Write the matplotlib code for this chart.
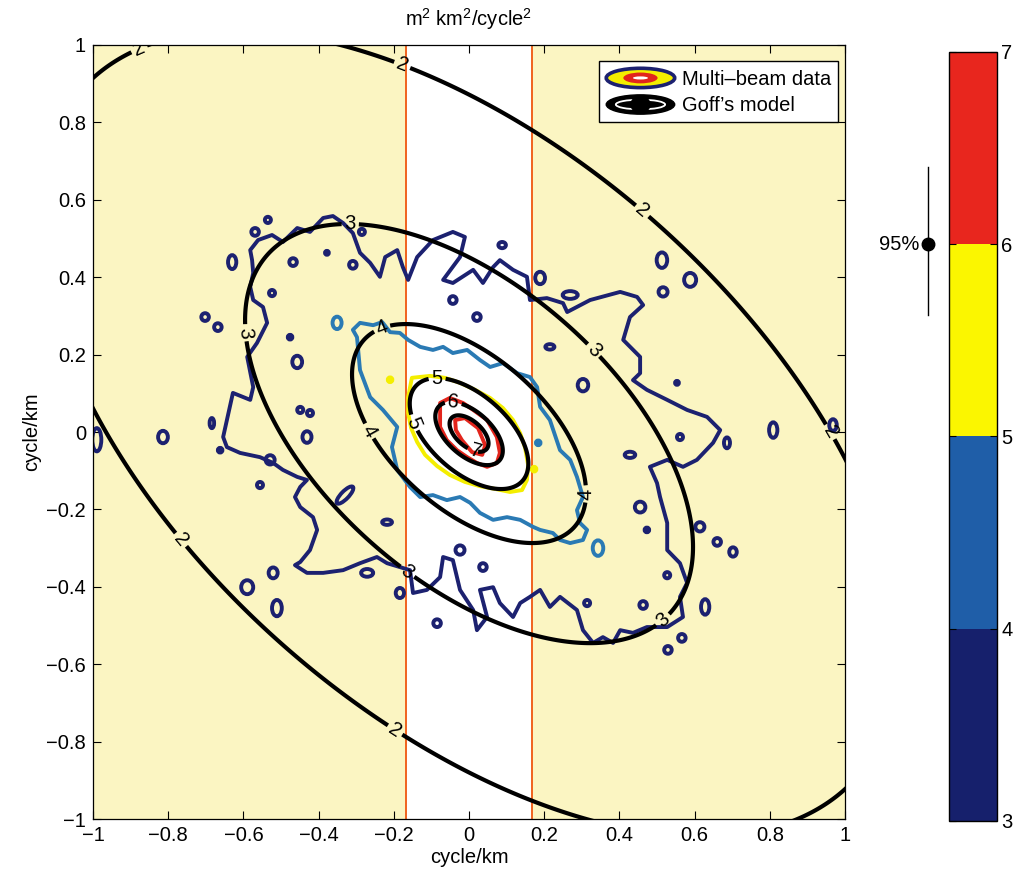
import numpy as np
import matplotlib
matplotlib.use('Agg')
import matplotlib.pyplot as plt
from matplotlib.patches import Ellipse, Polygon
from matplotlib.colors import ListedColormap, BoundaryNorm
from matplotlib.cm import ScalarMappable
from matplotlib.legend_handler import HandlerBase
from matplotlib.lines import Line2D
import matplotlib.transforms as mtransforms
from matplotlib.ticker import FuncFormatter

plt.rcParams['font.family'] = ['Liberation Sans', 'DejaVu Sans']
plt.rcParams['mathtext.fontset'] = 'custom'
plt.rcParams['mathtext.rm'] = 'Liberation Sans'
plt.rcParams['mathtext.it'] = 'Liberation Sans:italic'
plt.rcParams['mathtext.default'] = 'regular'

FS = 14.5

# ---------------- data ----------------
tick_vals = [-1, -0.8, -0.6, -0.4, -0.2, 0, 0.2, 0.4, 0.6, 0.8, 1]
band_edges = [-0.167, 0.168]          # excluded band (orange lines)

# Goff's model: log10 level -> squared "radius" of the quadratic form
goff_levels = [2, 3, 4, 5, 6, 7]
goff_r2 = [0.928, 0.251, 0.0685, 0.0176, 0.0057, 0.0019]
goff_center = (0.0, -0.004)
goff_quad = (1.0, 0.595, 1.21)        # a, b, c in a*x^2 + 2b*x*y + c*y^2
goff_label_pos = [(-0.875, 0.985), (-0.176, 0.953), (0.463, 0.574), (0.96, 0.0),
                  (-0.777, -0.287), (-0.202, -0.778),
                  (-0.316, 0.535), (-0.6, 0.256), (0.33, 0.21), (-0.165, -0.362), (0.516, -0.486),
                  (-0.23, 0.264), (-0.27, 0.0), (0.31, -0.16),
                  (-0.085, 0.134), (-0.149, 0.023),
                  (-0.043, 0.065),
                  (0.02, -0.04)]

# Multi-beam data contours (level 3, 4, 5, 6)
mb_level3 = [(-0.582, 0.470), (-0.561, 0.496), (-0.524, 0.509), (-0.495, 0.491), (-0.457, 0.527),
             (-0.423, 0.517), (-0.388, 0.553), (-0.362, 0.558), (-0.335, 0.540), (-0.309, 0.514),
             (-0.290, 0.463), (-0.263, 0.437), (-0.237, 0.401), (-0.223, 0.452), (-0.191, 0.470),
             (-0.176, 0.426), (-0.162, 0.393), (-0.138, 0.452), (-0.096, 0.496), (-0.043, 0.517),
             (-0.011, 0.504), (-0.024, 0.452), (-0.069, 0.393), (-0.043, 0.385), (0.011, 0.419),
             (0.037, 0.385), (0.064, 0.426), (0.082, 0.444), (0.117, 0.419), (0.154, 0.401),
             (0.162, 0.341), (0.207, 0.346), (0.250, 0.333), (0.261, 0.310), (0.322, 0.341),
             (0.402, 0.362), (0.447, 0.349), (0.463, 0.328), (0.428, 0.297), (0.410, 0.238),
             (0.455, 0.194), (0.455, 0.152), (0.436, 0.134), (0.473, 0.109), (0.527, 0.083),
             (0.580, 0.057), (0.633, 0.039), (0.668, 0.005), (0.649, -0.028), (0.606, -0.072),
             (0.569, -0.090), (0.527, -0.072), (0.481, -0.090), (0.500, -0.132), (0.508, -0.168),
             (0.527, -0.235), (0.527, -0.305), (0.561, -0.339), (0.580, -0.390), (0.561, -0.426),
             (0.569, -0.478), (0.527, -0.504), (0.473, -0.504), (0.436, -0.519), (0.402, -0.512),
             (0.383, -0.545), (0.356, -0.530), (0.330, -0.545), (0.303, -0.512), (0.287, -0.460),
             (0.242, -0.426), (0.215, -0.452), (0.189, -0.408), (0.162, -0.426), (0.136, -0.442),
             (0.117, -0.478), (0.082, -0.442), (0.064, -0.401), (0.029, -0.408), (0.048, -0.478),
             (0.021, -0.512), (0.011, -0.460), (-0.024, -0.408), (-0.043, -0.331), (-0.069, -0.323),
             (-0.077, -0.375), (-0.112, -0.408), (-0.149, -0.416), (-0.157, -0.357), (-0.184, -0.349),
             (-0.218, -0.339), (-0.245, -0.323), (-0.290, -0.339), (-0.335, -0.357), (-0.388, -0.364),
             (-0.431, -0.364), (-0.463, -0.344), (-0.449, -0.336), (-0.423, -0.305), (-0.404, -0.253),
             (-0.415, -0.220), (-0.449, -0.194), (-0.463, -0.168), (-0.449, -0.142), (-0.431, -0.124),
             (-0.457, -0.116), (-0.495, -0.098), (-0.521, -0.080), (-0.556, -0.065), (-0.609, -0.054),
             (-0.644, -0.039), (-0.654, -0.013), (-0.628, 0.101), (-0.582, 0.083), (-0.574, 0.116),
             (-0.590, 0.194), (-0.564, 0.230), (-0.537, 0.282), (-0.548, 0.323), (-0.574, 0.341),
             (-0.582, 0.375), (-0.574, 0.411), (-0.577, 0.444)]

mb_level3_islands = [  # x, y, rx, ry, angle
    (-0.630, 0.439, 0.011, 0.018, 0), (-0.535, 0.548, 0.008, 0.008, 0), (-0.569, 0.517, 0.010, 0.010, 0),
    (-0.468, 0.439, 0.010, 0.010, 0), (-0.524, 0.359, 0.008, 0.008, 0), (-0.702, 0.297, 0.010, 0.010, 0),
    (-0.668, 0.271, 0.010, 0.010, 0), (-0.457, 0.181, 0.013, 0.016, 0), (-0.476, 0.245, 0.006, 0.006, 0),
    (-0.309, 0.432, 0.010, 0.010, 0), (-0.043, 0.341, 0.010, 0.010, 0), (0.021, 0.297, 0.010, 0.010, 0),
    (-0.449, 0.057, 0.008, 0.008, 0), (-0.423, 0.049, 0.008, 0.008, 0), (-0.378, 0.463, 0.005, 0.005, 0),
    (-0.285, 0.517, 0.008, 0.008, 0), (0.088, 0.483, 0.010, 0.008, 0), (0.189, 0.398, 0.013, 0.016, 0),
    (0.269, 0.354, 0.020, 0.010, 0), (0.513, 0.444, 0.014, 0.020, 0), (0.588, 0.393, 0.016, 0.018, 0),
    (0.516, 0.362, 0.012, 0.012, 0), (0.215, 0.220, 0.012, 0.007, 0), (0.303, 0.121, 0.014, 0.016, 0),
    (0.809, 0.005, 0.011, 0.020, 0), (0.553, 0.127, 0.005, 0.005, 0), (0.686, -0.028, 0.008, 0.014, 0),
    (0.455, -0.194, 0.014, 0.014, 0), (0.473, -0.253, 0.006, 0.006, 0), (0.614, -0.245, 0.012, 0.012, 0),
    (0.660, -0.284, 0.010, 0.010, 0), (0.702, -0.310, 0.010, 0.012, 0), (0.628, -0.452, 0.011, 0.020, 0),
    (0.463, -0.447, 0.010, 0.010, 0), (0.527, -0.370, 0.008, 0.008, 0), (0.566, -0.532, 0.010, 0.010, 0),
    (0.529, -0.563, 0.010, 0.010, 0), (0.314, -0.442, 0.008, 0.008, 0), (0.037, -0.349, 0.010, 0.010, 0),
    (0.561, -0.013, 0.008, 0.008, 0), (0.428, -0.059, 0.014, 0.008, 0), (-0.662, -0.047, 0.006, 0.006, 0),
    (-0.556, -0.137, 0.008, 0.008, 0), (-0.529, -0.072, 0.012, 0.012, 0), (-0.431, -0.013, 0.012, 0.015, 0),
    (-0.330, -0.163, 0.030, 0.010, 45), (-0.218, -0.233, 0.013, 0.007, 0), (-0.271, -0.364, 0.016, 0.010, 0),
    (-0.590, -0.401, 0.016, 0.018, 0), (-0.521, -0.364, 0.012, 0.014, 0), (-0.511, -0.455, 0.013, 0.021, 0),
    (-0.184, -0.416, 0.011, 0.013, 0), (-0.085, -0.494, 0.010, 0.010, 0), (-0.024, -0.305, 0.012, 0.012, 0),
    (-0.814, -0.013, 0.013, 0.016, 0), (-0.684, 0.023, 0.006, 0.013, 0), (-0.990, -0.020, 0.012, 0.030, 0),
    (0.968, 0.018, 0.010, 0.015, 0)]

mb_level4 = [(-0.309, 0.264), (-0.290, 0.282), (-0.255, 0.276), (-0.231, 0.284), (-0.210, 0.258),
             (-0.184, 0.256), (-0.162, 0.238), (-0.130, 0.220), (-0.096, 0.212), (-0.069, 0.220),
             (-0.043, 0.204), (-0.005, 0.212), (0.029, 0.186), (0.056, 0.168), (0.090, 0.178),
             (0.128, 0.152), (0.162, 0.142), (0.181, 0.116), (0.189, 0.065), (0.215, 0.031),
             (0.242, -0.047), (0.269, -0.072), (0.287, -0.116), (0.303, -0.168), (0.287, -0.202),
             (0.295, -0.235), (0.314, -0.253), (0.303, -0.279), (0.269, -0.287), (0.242, -0.279),
             (0.223, -0.261), (0.189, -0.253), (0.170, -0.245), (0.136, -0.227), (0.101, -0.220),
             (0.064, -0.227), (0.029, -0.209), (0.003, -0.183), (-0.024, -0.168), (-0.059, -0.176),
             (-0.096, -0.163), (-0.130, -0.168), (-0.157, -0.142), (-0.191, -0.098), (-0.205, -0.039),
             (-0.191, 0.013), (-0.229, 0.057), (-0.263, 0.090), (-0.290, 0.160), (-0.298, 0.245)]
mb_level4_islands = [(-0.351, 0.282, 0.012, 0.016, 0), (0.343, -0.300, 0.014, 0.020, 0),
                     (0.184, -0.028, 0.006, 0.006, 0)]

mb_level5 = [(-0.152, 0.140), (-0.104, 0.145), (-0.064, 0.140), (-0.024, 0.127), (0.016, 0.109),
             (0.056, 0.088), (0.090, 0.062), (0.117, 0.031), (0.136, -0.003), (0.149, -0.041),
             (0.157, -0.085), (0.154, -0.124), (0.141, -0.150), (0.109, -0.155), (0.069, -0.147),
             (0.029, -0.140), (-0.011, -0.129), (-0.051, -0.111), (-0.085, -0.088), (-0.117, -0.059),
             (-0.138, -0.026), (-0.154, 0.010), (-0.162, 0.049), (-0.162, 0.090)]
mb_level5_islands = [(-0.210, 0.135, 0.006, 0.006, 0), (0.173, -0.096, 0.006, 0.006, 0)]

mb_level6 = [(-0.077, 0.075), (-0.051, 0.088), (-0.016, 0.075), (0.011, 0.057), (0.048, 0.031),
             (0.074, -0.013), (0.082, -0.054), (0.074, -0.080), (0.048, -0.090), (0.021, -0.080),
             (-0.005, -0.065), (-0.032, -0.047), (-0.059, -0.021), (-0.077, 0.013), (-0.077, 0.049)]
mb_level6_inner = [(-0.037, 0.031), (-0.011, 0.036), (0.024, 0.010), (0.043, -0.034),
                   (0.035, -0.059), (0.008, -0.052), (-0.019, -0.021), (-0.035, 0.005)]

line_colors = {3: '#1c2170', 4: '#2a7ab4', 5: '#f4ee00', 6: '#e2251c'}
cb_bounds = [3, 4, 5, 6, 7]
cb_colors = ['#16206c', '#1f5ea8', '#fbf600', '#e8261e']
ci_mid, ci_low, ci_high = 6.0, 5.63, 6.40

# ---------------- figure ----------------
fig = plt.figure(figsize=(10.18, 8.82), dpi=100)
ax = fig.add_axes([0.0914, 0.0714, 0.7387, 0.8776])
ax.set_xlim(-1, 1)
ax.set_ylim(-1, 1)
ax.set_facecolor('#fbf5c2')

ax.axvspan(band_edges[0], band_edges[1], color='white', lw=0, zorder=0.5)
for xb in band_edges:
    ax.axvline(xb, color='#f0621e', lw=1.4, zorder=1)

LW = 2.8


def draw_loop(pts, color):
    ax.add_patch(Polygon(np.array(pts), closed=True, fill=False, edgecolor=color,
                         lw=LW, joinstyle='round', zorder=2))


def draw_islands(isl, color):
    for x, y, rx, ry, ang in isl:
        ax.add_patch(Ellipse((x, y), 2 * rx, 2 * ry, angle=ang, fill=False,
                             edgecolor=color, lw=LW, zorder=2))


draw_loop(mb_level3, line_colors[3])
draw_islands(mb_level3_islands, line_colors[3])
draw_loop(mb_level4, line_colors[4])
draw_islands(mb_level4_islands, line_colors[4])
draw_loop(mb_level5, line_colors[5])
draw_islands(mb_level5_islands, line_colors[5])
draw_loop(mb_level6, line_colors[6])
draw_loop(mb_level6_inner, line_colors[6])

# Goff's model contours
gx = np.linspace(-1.2, 1.2, 901)
GX, GY = np.meshgrid(gx, gx)
dX = GX - goff_center[0]
dY = GY - goff_center[1]
qa, qb, qc = goff_quad
Q = qa * dX ** 2 + 2 * qb * dX * dY + qc * dY ** 2
lv = np.sort(np.array(goff_r2))
cs = ax.contour(GX, GY, Q, levels=lv, colors='k', linewidths=3.0, zorder=3)


def goff_fmt(q):
    i = int(np.argmin(np.abs(np.array(goff_r2) - q)))
    return str(goff_levels[i])


ax.clabel(cs, fmt=goff_fmt, manual=goff_label_pos, inline=True, fontsize=FS, inline_spacing=3)

ax.set_xticks(tick_vals)
ax.set_yticks(tick_vals)
fmt_tick = FuncFormatter(lambda v, p: ('%g' % v).replace('-', '\u2212'))
ax.xaxis.set_major_formatter(fmt_tick)
ax.yaxis.set_major_formatter(fmt_tick)
ax.tick_params(direction='in', top=True, right=True, length=6, width=0.8, labelsize=FS, pad=5)
for s in ax.spines.values():
    s.set_linewidth(0.9)
ax.set_xlabel('cycle/km', fontsize=FS, labelpad=2)
ax.set_ylabel('cycle/km', fontsize=FS, labelpad=4)
ax.set_title('m$^2$ km$^2$/cycle$^2$', fontsize=FS, pad=14)


# legend with concentric-ellipse icons
class RingHandler(HandlerBase):
    def __init__(self, rings):
        super().__init__()
        self.rings = rings

    def create_artists(self, legend, orig_handle, xdescent, ydescent, width, height, fontsize, trans):
        cx = 0.5 * width - xdescent
        cy = 0.5 * height - ydescent
        arts = []
        for sw, sh, fc, ec, lw in self.rings:
            arts.append(Ellipse((cx, cy), width * sw, height * sh, facecolor=fc,
                                edgecolor=ec, lw=lw, transform=trans))
        return arts


mb_rings = [(1.0, 1.0, line_colors[5], line_colors[3], 2.6),
            (0.5, 0.56, line_colors[6], 'none', 0),
            (0.22, 0.16, 'white', 'none', 0)]
goff_rings = [(1.0, 1.0, 'black', 'black', 1.0),
              (0.72, 0.5, 'none', 'white', 1.3),
              (0.2, 0.07, 'white', 'none', 0),
              (0.3, 0.9, 'black', 'none', 0)]
h1 = Line2D([], [])
h2 = Line2D([], [])
leg = ax.legend([h1, h2], ['Multi\u2013beam data', 'Goff\u2019s model'],
                handler_map={h1: RingHandler(mb_rings), h2: RingHandler(goff_rings)},
                loc='upper right', bbox_to_anchor=(0.9907, 0.979), borderaxespad=0,
                fontsize=FS, handlelength=3.4, handleheight=1.1, handletextpad=0.35,
                borderpad=0.35, labelspacing=0.3, fancybox=False, framealpha=1, edgecolor='k')
leg.get_frame().set_linewidth(1.0)
leg.set_zorder(10)

# colorbar
cax = fig.add_axes([0.9322, 0.0692, 0.0472, 0.8719])
cmap = ListedColormap(cb_colors)
norm = BoundaryNorm(cb_bounds, cmap.N)
cb = fig.colorbar(ScalarMappable(norm=norm, cmap=cmap), cax=cax, ticks=cb_bounds)
cax.tick_params(direction='in', left=True, right=True, length=5, labelsize=FS, pad=3)
cb.outline.set_linewidth(1.0)

trans = mtransforms.blended_transform_factory(cax.transAxes, cax.transData)
cax.plot([-0.44, -0.44], [ci_low, ci_high], color='k', lw=1, transform=trans, clip_on=False)
cax.plot([-0.44], [ci_mid], 'o', color='k', ms=9, transform=trans, clip_on=False)
cax.text(-0.62, ci_mid, '95%', transform=trans, ha='right', va='center', fontsize=FS)

fig.savefig('out.png', dpi=100)
